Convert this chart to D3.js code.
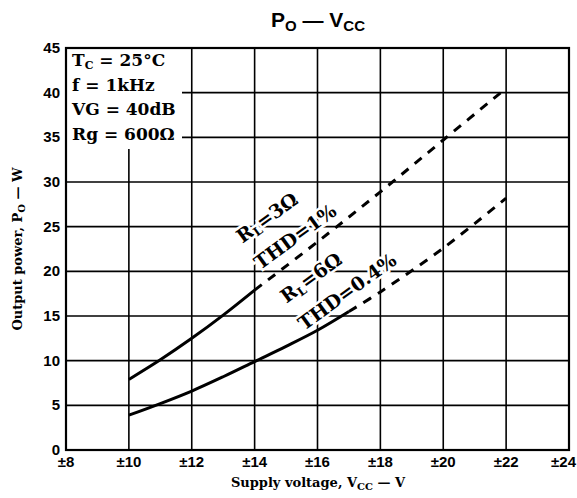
<!DOCTYPE html>
<html>
<head>
<meta charset="utf-8">
<title>Po - Vcc</title>
<script src="https://d3js.org/d3.v7.min.js"></script>
<style>
  body { margin: 0; background: #fff; }
  svg { display: block; }
  .tick-lbl { font-family: "Liberation Sans", Arial, sans-serif; font-weight: bold; }
  .serif { font-family: "DejaVu Serif", "Liberation Serif", serif; font-weight: bold; }
</style>
</head>
<body>
<svg id="chart" width="577" height="498"></svg>
<script>
// supply voltage (±V) / output power (W)
const rl3V = [10, 11, 12, 13, 14, 16, 18, 20, 22]
const rl3P = [7.9, 10.1, 12.5, 15.1, 17.9, 23.3, 28.9, 34.7, 40.5]
const rl3SolidTo = 14

const rl6V = [10, 11, 12, 13, 14, 15, 16, 17, 18, 20, 22]
const rl6P = [3.9, 5.2, 6.6, 8.2, 9.9, 11.6, 13.4, 15.5, 17.7, 22.6, 28.2]
const rl6SolidTo = 17

const xTicks = [8, 10, 12, 14, 16, 18, 20, 22, 24]
const yTicks = [0, 5, 10, 15, 20, 25, 30, 35, 40, 45]
const conditions = ["T_C = 25°C", "f = 1kHz", "VG = 40dB", "Rg = 600Ω"]

const svg = d3.select("#chart")
const x = d3.scaleLinear().domain([8, 24]).range([66, 569])
const y = d3.scaleLinear().domain([0, 45]).range([450, 48])

// grid
const grid = svg.append("g").attr("stroke", "#000").attr("stroke-width", 1.6)
grid.selectAll("line.v").data(xTicks.slice(1, -1)).enter().append("line")
  .attr("x1", d => x(d)).attr("x2", d => x(d))
  .attr("y1", y(45)).attr("y2", y(0))
grid.selectAll("line.h").data(yTicks.slice(1, -1)).enter().append("line")
  .attr("x1", x(8)).attr("x2", x(24))
  .attr("y1", d => y(d)).attr("y2", d => y(d))

// conditions box blanks out the grid behind it
svg.append("rect").attr("x", x(8)).attr("y", y(45))
  .attr("width", 116).attr("height", 101).attr("fill", "#fff")

svg.append("rect").attr("x", x(8)).attr("y", y(45))
  .attr("width", x(24) - x(8)).attr("height", y(0) - y(45))
  .attr("fill", "none").attr("stroke", "#000").attr("stroke-width", 2.2)

// curves
const line = d3.line().x(d => x(d[0])).y(d => y(d[1])).curve(d3.curveCatmullRom)
function drawCurve(vs, ps, solidTo) {
  const pts = vs.map((v, i) => [v, ps[i]])
  svg.append("path").datum(pts.filter(p => p[0] <= solidTo))
    .attr("d", line).attr("fill", "none").attr("stroke", "#000").attr("stroke-width", 3)
  svg.append("path").datum(pts.filter(p => p[0] >= solidTo))
    .attr("d", line).attr("fill", "none").attr("stroke", "#000").attr("stroke-width", 3)
    .attr("stroke-dasharray", "9,8")
}
drawCurve(rl3V, rl3P, rl3SolidTo)
drawCurve(rl6V, rl6P, rl6SolidTo)

// curve labels: parts are [text, isSubscript]
function curveLabel(cx, cy, parts) {
  const t = svg.append("text").attr("class", "serif")
    .attr("transform", `translate(${cx},${cy}) rotate(-36)`)
    .attr("text-anchor", "middle").attr("font-size", 19)
    .attr("stroke", "#fff").attr("stroke-width", 5).attr("paint-order", "stroke")
  let sub = false
  parts.forEach(p => {
    const s = t.append("tspan").text(p[0]).attr("font-size", p[1] ? 12 : 19)
    if (p[1] && !sub) s.attr("dy", 3)
    if (!p[1] && sub) s.attr("dy", -3)
    sub = p[1]
  })
}
curveLabel(271, 223, [["R", false], ["L", true], ["=3Ω", false]])
curveLabel(299, 242, [["THD=1%", false]])
curveLabel(315, 283, [["R", false], ["L", true], ["=6Ω", false]])
curveLabel(351, 297, [["THD=0.4%", false]])

// conditions text
conditions.forEach((c, i) => {
  const t = svg.append("text").attr("class", "serif")
    .attr("x", 72).attr("y", 66 + i * 24.5).attr("font-size", 17)
  if (c.startsWith("T_C")) {
    t.append("tspan").text("T")
    t.append("tspan").text("C").attr("font-size", 11).attr("dy", 3)
    t.append("tspan").text(c.slice(3)).attr("dy", -3)
  } else {
    t.text(c)
  }
})

// tick labels
svg.selectAll("text.yt").data(yTicks).enter().append("text")
  .attr("class", "tick-lbl").attr("font-size", 15)
  .attr("x", 60).attr("y", d => y(d) + 5)
  .attr("text-anchor", "end").text(d => d)
svg.selectAll("text.xt").data(xTicks).enter().append("text")
  .attr("class", "tick-lbl").attr("font-size", 15)
  .attr("x", d => d === 24 ? 576 : x(d)).attr("y", 467)
  .attr("text-anchor", d => d === 24 ? "end" : "middle").text(d => "±" + d)

// title
const title = svg.append("text").attr("x", 318).attr("y", 27)
  .attr("text-anchor", "middle").attr("class", "tick-lbl").attr("font-size", 21)
title.append("tspan").text("P")
title.append("tspan").text("O").attr("font-size", 15).attr("dy", 4)
title.append("tspan").text(" — V").attr("dy", -4)
title.append("tspan").text("CC").attr("font-size", 15).attr("dy", 4)

// axis titles
const xt = svg.append("text").attr("class", "serif").attr("x", 318).attr("y", 487)
  .attr("text-anchor", "middle").attr("font-size", 13)
xt.append("tspan").text("Supply voltage, V")
xt.append("tspan").text("CC").attr("font-size", 10).attr("dy", 3)
xt.append("tspan").text(" — V").attr("dy", -3)

const yt = svg.append("text").attr("class", "serif")
  .attr("transform", `translate(22,${y(22.5)}) rotate(-90)`)
  .attr("text-anchor", "middle").attr("font-size", 13)
yt.append("tspan").text("Output power, P")
yt.append("tspan").text("O").attr("font-size", 10).attr("dy", 3)
yt.append("tspan").text(" — W").attr("dy", -3)
</script>
</body>
</html>
